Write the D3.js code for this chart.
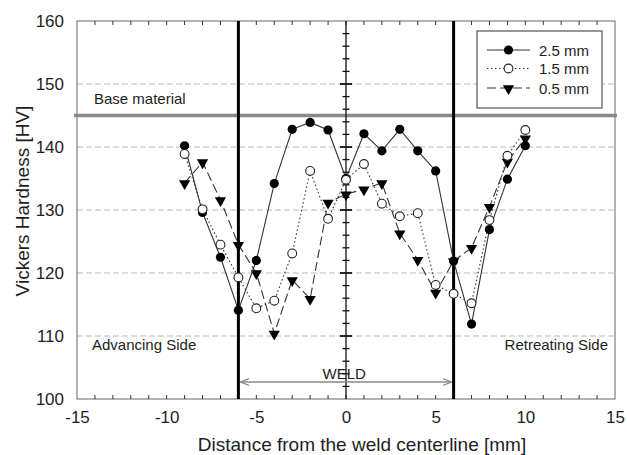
<!DOCTYPE html>
<html><head><meta charset="utf-8">
<script src="https://cdn.jsdelivr.net/npm/d3@7"></script>
<style>body{margin:0;background:#fff}svg{display:block;font-family:"Liberation Sans",Arial,sans-serif}</style>
</head><body><svg id="c" width="627" height="455"></svg>
<script>
const xs = [-9,-8,-7,-6,-5,-4,-3,-2,-1,0,1,2,3,4,5,6,7,8,9,10];
const s25 = [140.2,129.6,122.5,114.1,122.0,134.2,142.8,143.9,142.7,135.0,142.1,139.4,142.8,139.4,136.2,121.9,111.9,126.9,134.9,140.2];
const s15 = [138.9,130.1,124.5,119.3,114.4,115.6,123.1,136.2,128.6,134.8,137.3,131.0,129.0,129.5,118.1,116.7,115.2,128.4,138.6,142.7];
const s05 = [134.3,137.6,131.6,124.5,120.0,110.4,118.9,115.9,131.2,132.5,133.3,134.3,126.3,122.1,116.9,121.9,124.0,130.5,137.7,141.4];
const seriesNames = ["2.5 mm","1.5 mm","0.5 mm"];
const xTicks = [-15,-10,-5,0,5,10,15];
const yTicks = [100,110,120,130,140,150,160];
const gridVals = [110,120,130,140,150];
const baseMaterial = 145;
const weldEdges = [-6,6];

const svg = d3.select("#c");
const m = {l:77,t:21,r:12,b:56};
const W = 627-m.l-m.r, H = 455-m.t-m.b;
const x = d3.scaleLinear().domain([-15,15]).range([m.l,m.l+W]);
const y = d3.scaleLinear().domain([100,160]).range([m.t+H,m.t]);
const txt = "#1e1e1e";

// grid
svg.append("g").selectAll("line").data(gridVals).join("line")
  .attr("x1",x(-15)).attr("x2",x(15)).attr("y1",d=>y(d)).attr("y2",d=>y(d))
  .attr("stroke","#b8b8b8").attr("stroke-width",1).attr("stroke-dasharray","6,3");

// frame
svg.append("rect").attr("x",x(-15)).attr("y",y(160)).attr("width",W).attr("height",H)
  .attr("fill","none").attr("stroke","#666").attr("stroke-width",1);

// top & bottom minor ticks
const unit = d3.range(-14,15,1);
const tb = svg.append("g").attr("stroke","#333").attr("stroke-width",1);
tb.selectAll(".tt").data(unit).join("line").attr("class","tt")
  .attr("x1",d=>x(d)).attr("x2",d=>x(d)).attr("y1",y(160)).attr("y2",y(160)+4);
tb.selectAll(".bt").data(unit).join("line").attr("class","bt")
  .attr("x1",d=>x(d)).attr("x2",d=>x(d)).attr("y1",y(100)).attr("y2",y(100)-4);

// axes labels via d3 axes (no domain, no ticks)
const xa = svg.append("g").attr("transform",`translate(0,${y(100)})`)
  .call(d3.axisBottom(x).tickValues(xTicks).tickSize(0).tickPadding(12).tickFormat(d3.format("d")));
xa.select(".domain").remove();
xa.selectAll("text").attr("font-size",17).attr("fill",txt).attr("font-family","Liberation Sans, Arial, sans-serif").text(d=>String(d));
const ya = svg.append("g").attr("transform",`translate(${x(-15)},0)`)
  .call(d3.axisLeft(y).tickValues(yTicks).tickSize(0).tickPadding(13).tickFormat(d3.format("d")));
ya.select(".domain").remove();
ya.selectAll("text").attr("font-size",17).attr("fill",txt).attr("font-family","Liberation Sans, Arial, sans-serif");

// base material line
svg.append("line").attr("x1",x(-15)-3).attr("x2",x(15)+2).attr("y1",y(baseMaterial)).attr("y2",y(baseMaterial))
  .attr("stroke","#888").attr("stroke-width",3.5);

// center axis at x=0
const cg = svg.append("g").attr("stroke","#111").attr("stroke-width",1.3);
cg.append("line").attr("x1",x(0)).attr("x2",x(0)).attr("y1",y(160)).attr("y2",y(100));
cg.selectAll(".mn").data(d3.range(102,160,2).filter(v=>v%10!==0)).join("line").attr("class","mn")
  .attr("x1",x(0)-3.5).attr("x2",x(0)+3.5).attr("y1",d=>y(d)).attr("y2",d=>y(d));
cg.selectAll(".mj").data(gridVals).join("line").attr("class","mj")
  .attr("x1",x(0)-6).attr("x2",x(0)+6).attr("y1",d=>y(d)).attr("y2",d=>y(d)).attr("stroke-width",1.8);

// weld edges
svg.selectAll(".we").data(weldEdges).join("line").attr("class","we")
  .attr("x1",d=>x(d)).attr("x2",d=>x(d)).attr("y1",y(160)).attr("y2",y(100))
  .attr("stroke","#000").attr("stroke-width",3);

// WELD arrow
const defs = svg.append("defs");
defs.append("marker").attr("id","ah").attr("viewBox","0 0 10 10").attr("refX",10).attr("refY",5)
  .attr("markerWidth",9).attr("markerHeight",9).attr("markerUnits","userSpaceOnUse").attr("orient","auto-start-reverse")
  .append("path").attr("d","M0,1 L10,5 L0,9").attr("fill","none").attr("stroke","#888").attr("stroke-width",1.3);
svg.append("line").attr("x1",x(-6)+2).attr("x2",x(6)-2).attr("y1",382).attr("y2",382)
  .attr("stroke","#888").attr("stroke-width",1.3).attr("marker-start","url(#ah)").attr("marker-end","url(#ah)");
svg.append("text").attr("x",x(-0.1)).attr("y",379).attr("text-anchor","middle").attr("font-size",15).attr("fill",txt).text("WELD");

// annotations
svg.append("text").attr("x",94).attr("y",y(baseMaterial)-12).attr("font-size",15).attr("fill",txt).text("Base material");
svg.append("text").attr("x",92).attr("y",350).attr("font-size",15).attr("fill",txt).text("Advancing Side");
svg.append("text").attr("x",608).attr("y",350).attr("text-anchor","end").attr("font-size",15).attr("fill",txt).text("Retreating Side");

// series
const lineGen = d3.line().x(d=>x(d[0])).y(d=>y(d[1]));
const styles = [
  {data:s25, dash:null, marker:"fc"},
  {data:s15, dash:"1.5,2.5", marker:"oc"},
  {data:s05, dash:"9,4", marker:"tri"}
];
const tri = d3.symbol().type(d3.symbolTriangle).size(55)();
function drawMarker(g, type, cx, cy){
  if(type==="fc") g.append("circle").attr("cx",cx).attr("cy",cy).attr("r",4.6).attr("fill","#000");
  else if(type==="oc") g.append("circle").attr("cx",cx).attr("cy",cy).attr("r",4.4).attr("fill","#fff").attr("stroke","#222").attr("stroke-width",1.1);
  else g.append("path").attr("d",tri).attr("transform",`translate(${cx},${cy+0.5}) rotate(180)`).attr("fill","#000");
}
[2,0,1].forEach(k=>{
  const s = styles[k];
  const pts = xs.map((v,i)=>[v,s.data[i]]);
  svg.append("path").attr("d",lineGen(pts)).attr("fill","none").attr("stroke","#333").attr("stroke-width",1.1)
    .attr("stroke-dasharray",s.dash);
  const g = svg.append("g");
  pts.forEach(p=>drawMarker(g,s.marker,x(p[0]),y(p[1])));
});

// legend
const lg = svg.append("g");
lg.append("rect").attr("x",477).attr("y",31).attr("width",125).attr("height",77)
  .attr("fill","#fff").attr("stroke","#555").attr("stroke-width",1.2);
const ly = [50,68.5,88];
styles.forEach((s,i)=>{
  lg.append("line").attr("x1",487).attr("x2",530).attr("y1",ly[i]).attr("y2",ly[i])
    .attr("stroke","#333").attr("stroke-width",1.1).attr("stroke-dasharray",s.dash);
  drawMarker(lg,s.marker,508.5,ly[i]);
  lg.append("text").attr("x",539).attr("y",ly[i]+5.5).attr("font-size",15).attr("fill",txt).text(seriesNames[i]);
});

// axis titles
svg.append("text").attr("x",362).attr("y",451).attr("text-anchor","middle").attr("font-size",19).attr("fill",txt)
  .text("Distance from the weld centerline [mm]");
svg.append("text").attr("transform","translate(29,201) rotate(-90)").attr("text-anchor","middle").attr("font-size",19).attr("fill",txt)
  .text("Vickers Hardness [HV]");
</script></body></html>
